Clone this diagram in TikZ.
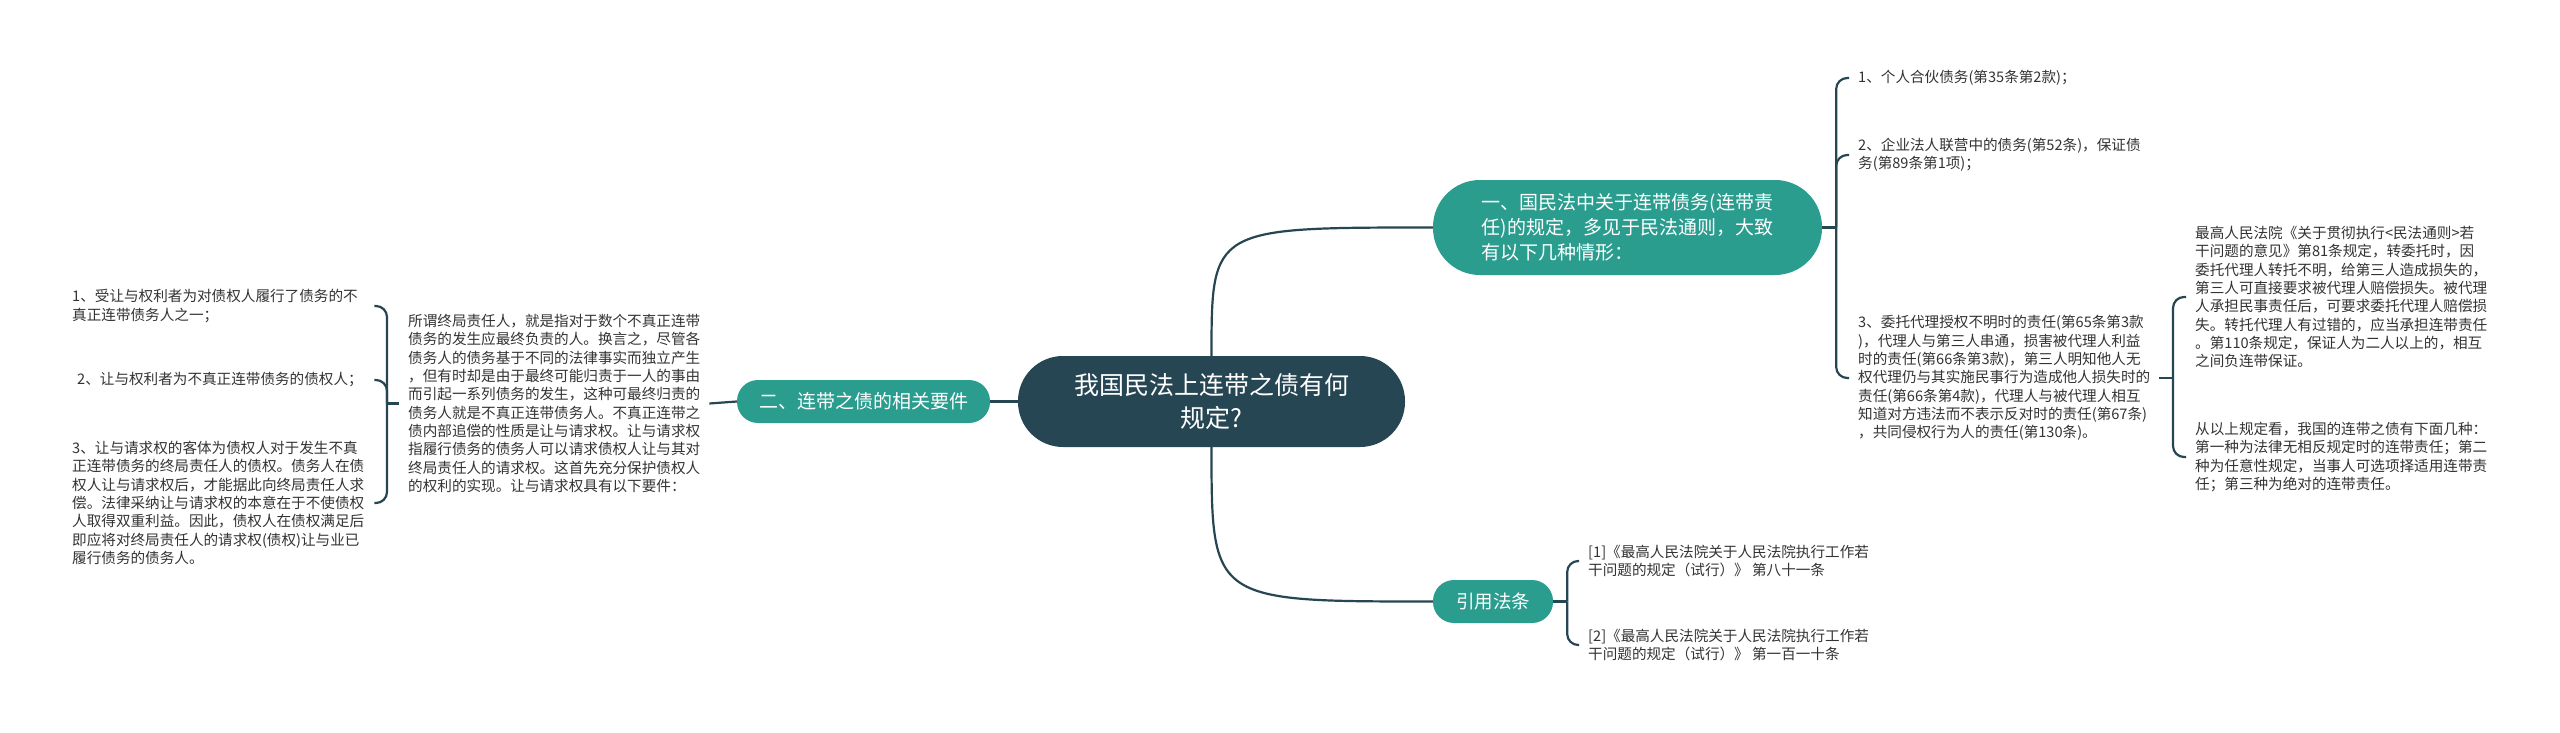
\documentclass[tikz,border=0pt]{standalone}
\usepackage{fontspec}
\setmainfont{Noto Sans CJK SC}
\usetikzlibrary{backgrounds}
\definecolor{cdark}{HTML}{264653}
\definecolor{cteal}{HTML}{2A9D8F}
\definecolor{ctext}{HTML}{333333}
\begin{document}
\begin{tikzpicture}[x=1pt,y=-1pt,
  conn/.style={draw=cdark, line width=2.2pt},
  bracket/.style={conn, rounded corners=11pt},
  leaf/.style={anchor=west, inner xsep=9pt, inner ysep=0pt, align=left, text=ctext, font=\fontsize{14.6}{18.3}\selectfont},
  pill/.style={fill=cteal, text=white, inner sep=0pt, align=center},
]
\useasboundingbox (0,0) rectangle (2560,733);

% main nodes
\node[pill, fill=cdark, minimum width=387pt, minimum height=91pt, rounded corners=45pt, font=\fontsize{25}{33}\selectfont] (root) at (1211.5,401.5) {我国民法上连带之债有何\\规定?};
\node[pill, minimum width=389pt, minimum height=95pt, rounded corners=47pt, align=left, font=\fontsize{19}{25}\selectfont] (n1) at (1627.5,227.5) {一、国民法中关于连带债务(连带责\\任)的规定，多见于民法通则，大致\\有以下几种情形：};
\node[pill, minimum width=253pt, minimum height=43pt, rounded corners=21pt, font=\fontsize{19}{23}\selectfont] (n2) at (863.5,401.5) {二、连带之债的相关要件};
\node[pill, minimum width=120pt, minimum height=43pt, rounded corners=21pt, font=\fontsize{18.5}{22}\selectfont] (n3) at (1493,601.5) {引用法条};

% left leaves
\node[leaf] (M) at (399,403.5) {所谓终局责任人，就是指对于数个不真正连带\\债务的发生应最终负责的人。换言之，尽管各\\债务人的债务基于不同的法律事实而独立产生\\，但有时却是由于最终可能归责于一人的事由\\而引起一系列债务的发生，这种可最终归责的\\债务人就是不真正连带债务人。不真正连带之\\债内部追偿的性质是让与请求权。让与请求权\\指履行债务的债务人可以请求债权人让与其对\\终局责任人的请求权。这首先充分保护债权人\\的权利的实现。让与请求权具有以下要件：};
\node[leaf, text width=293pt] (L1) at (63,306) {1、受让与权利者为对债权人履行了债务的不\\真正连带债务人之一；};
\node[leaf, text width=293pt] (L2) at (63,380) {\hspace*{5pt}2、让与权利者为不真正连带债务的债权人；};
\node[leaf, text width=293pt] (L3) at (63,503) {3、让与请求权的客体为债权人对于发生不真\\正连带债务的终局责任人的债权。债务人在债\\权人让与请求权后，才能据此向终局责任人求\\偿。法律采纳让与请求权的本意在于不使债权\\人取得双重利益。因此，债权人在债权满足后\\即应将对终局责任人的请求权(债权)让与业已\\履行债务的债务人。};

% right leaves
\node[leaf] (r1) at (1849,78) {1、个人合伙债务(第35条第2款)；};
\node[leaf] (r2) at (1849,155) {2、企业法人联营中的债务(第52条)，保证债\\务(第89条第1项)；};
\node[leaf] (r3) at (1849,378) {3、委托代理授权不明时的责任(第65条第3款\\)，代理人与第三人串通，损害被代理人利益\\时的责任(第66条第3款)，第三人明知他人无\\权代理仍与其实施民事行为造成他人损失时的\\责任(第66条第4款)，代理人与被代理人相互\\知道对方违法而不表示反对时的责任(第67条)\\，共同侵权行为人的责任(第130条)。};
\node[leaf] (r3a) at (2186,297) {最高人民法院《关于贯彻执行\textless{}民法通则\textgreater{}若\\干问题的意见》第81条规定，转委托时，因\\委托代理人转托不明，给第三人造成损失的，\\第三人可直接要求被代理人赔偿损失。被代理\\人承担民事责任后，可要求委托代理人赔偿损\\失。转托代理人有过错的，应当承担连带责任\\。第110条规定，保证人为二人以上的，相互\\之间负连带保证。};
\node[leaf] (r3b) at (2186,457) {从以上规定看，我国的连带之债有下面几种：\\第一种为法律无相反规定时的连带责任；第二\\种为任意性规定，当事人可选项择适用连带责\\任；第三种为绝对的连带责任。};
\node[leaf] (ref1) at (1579,561) {[1]《最高人民法院关于人民法院执行工作若\\干问题的规定（试行）》 第八十一条};
\node[leaf] (ref2) at (1579,645) {[2]《最高人民法院关于人民法院执行工作若\\干问题的规定（试行）》 第一百一十条};

\begin{scope}[on background layer]
\fill[white] (0,0) rectangle (2560,733);
\draw[conn] (root.west) -- (n2.east);
\draw[conn] (n2.west) -- (M.east);
\draw[conn] (M.west) -- ++(-12,0) coordinate (jl);
\foreach \c in {L1,L2,L3} \draw[bracket] (jl) |- (\c.east);

\draw[conn] (root.north) .. controls (root.north |- n1.west) .. (n1.west);
\draw[conn] (root.south) .. controls (root.south |- n3.west) .. (n3.west);

\draw[conn] (n1.east) -- ++(14,0) coordinate (jr);
\foreach \c in {r1,r2,r3} \draw[bracket] (jr) |- (\c.west);

\draw[conn] (r3.east) -- ([xshift=-13pt]r3a.west |- r3.east) coordinate (jr3);
\foreach \c in {r3a,r3b} \draw[bracket] (jr3) |- (\c.west);

\draw[conn] (n3.east) -- ++(14,0) coordinate (jc);
\foreach \c in {ref1,ref2} \draw[bracket] (jc) |- (\c.west);
\end{scope}
\end{tikzpicture}
\end{document}
